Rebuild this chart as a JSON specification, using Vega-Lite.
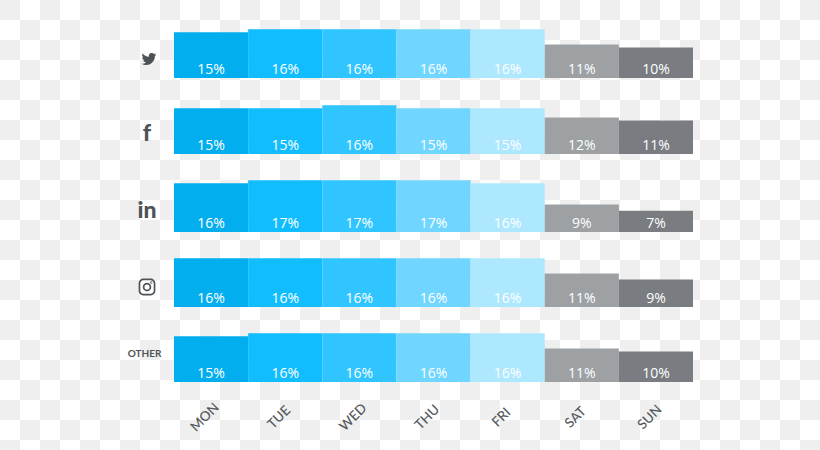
{"$schema":"https://vega.github.io/schema/vega-lite/v6.json","width":820,"height":450,"padding":0,"autosize":{"type":"none"},"background":"#ffffff","config":{"view":{"stroke":null}},
"datasets":{
"checker":[{"r":0,"c":[0,2,4,6,8,10,12,14,16,18,20,22,24,26,28,30,32,34,36,38,40]},{"r":1,"c":[1,3,5,7,9,11,13,15,17,19,21,23,25,27,29,31,33,35,37,39]},{"r":2,"c":[0,2,4,6,8,10,12,14,16,18,20,22,24,26,28,30,32,34,36,38,40]},{"r":3,"c":[1,3,5,7,9,11,13,15,17,19,21,23,25,27,29,31,33,35,37,39]},{"r":4,"c":[0,2,4,6,8,10,12,14,16,18,20,22,24,26,28,30,32,34,36,38,40]},{"r":5,"c":[1,3,5,7,9,11,13,15,17,19,21,23,25,27,29,31,33,35,37,39]},{"r":6,"c":[0,2,4,6,8,10,12,14,16,18,20,22,24,26,28,30,32,34,36,38,40]},{"r":7,"c":[1,3,5,7,9,11,13,15,17,19,21,23,25,27,29,31,33,35,37,39]},{"r":8,"c":[0,2,4,6,8,10,12,14,16,18,20,22,24,26,28,30,32,34,36,38,40]},{"r":9,"c":[1,3,5,7,9,11,13,15,17,19,21,23,25,27,29,31,33,35,37,39]},{"r":10,"c":[0,2,4,6,8,10,12,14,16,18,20,22,24,26,28,30,32,34,36,38,40]},{"r":11,"c":[1,3,5,7,9,11,13,15,17,19,21,23,25,27,29,31,33,35,37,39]},{"r":12,"c":[0,2,4,6,8,10,12,14,16,18,20,22,24,26,28,30,32,34,36,38,40]},{"r":13,"c":[1,3,5,7,9,11,13,15,17,19,21,23,25,27,29,31,33,35,37,39]},{"r":14,"c":[0,2,4,6,8,10,12,14,16,18,20,22,24,26,28,30,32,34,36,38,40]},{"r":15,"c":[1,3,5,7,9,11,13,15,17,19,21,23,25,27,29,31,33,35,37,39]},{"r":16,"c":[0,2,4,6,8,10,12,14,16,18,20,22,24,26,28,30,32,34,36,38,40]},{"r":17,"c":[1,3,5,7,9,11,13,15,17,19,21,23,25,27,29,31,33,35,37,39]},{"r":18,"c":[0,2,4,6,8,10,12,14,16,18,20,22,24,26,28,30,32,34,36,38,40]},{"r":19,"c":[1,3,5,7,9,11,13,15,17,19,21,23,25,27,29,31,33,35,37,39]},{"r":20,"c":[0,2,4,6,8,10,12,14,16,18,20,22,24,26,28,30,32,34,36,38,40]},{"r":21,"c":[1,3,5,7,9,11,13,15,17,19,21,23,25,27,29,31,33,35,37,39]},{"r":22,"c":[0,2,4,6,8,10,12,14,16,18,20,22,24,26,28,30,32,34,36,38,40]}],
"cells":[
{"platform":"Twitter","day":"MON","share":0.15},{"platform":"Twitter","day":"TUE","share":0.16},{"platform":"Twitter","day":"WED","share":0.16},{"platform":"Twitter","day":"THU","share":0.16},{"platform":"Twitter","day":"FRI","share":0.16},{"platform":"Twitter","day":"SAT","share":0.11},{"platform":"Twitter","day":"SUN","share":0.10},
{"platform":"Facebook","day":"MON","share":0.15},{"platform":"Facebook","day":"TUE","share":0.15},{"platform":"Facebook","day":"WED","share":0.16},{"platform":"Facebook","day":"THU","share":0.15},{"platform":"Facebook","day":"FRI","share":0.15},{"platform":"Facebook","day":"SAT","share":0.12},{"platform":"Facebook","day":"SUN","share":0.11},
{"platform":"LinkedIn","day":"MON","share":0.16},{"platform":"LinkedIn","day":"TUE","share":0.17},{"platform":"LinkedIn","day":"WED","share":0.17},{"platform":"LinkedIn","day":"THU","share":0.17},{"platform":"LinkedIn","day":"FRI","share":0.16},{"platform":"LinkedIn","day":"SAT","share":0.09},{"platform":"LinkedIn","day":"SUN","share":0.07},
{"platform":"Instagram","day":"MON","share":0.16},{"platform":"Instagram","day":"TUE","share":0.16},{"platform":"Instagram","day":"WED","share":0.16},{"platform":"Instagram","day":"THU","share":0.16},{"platform":"Instagram","day":"FRI","share":0.16},{"platform":"Instagram","day":"SAT","share":0.11},{"platform":"Instagram","day":"SUN","share":0.09},
{"platform":"Other","day":"MON","share":0.15},{"platform":"Other","day":"TUE","share":0.16},{"platform":"Other","day":"WED","share":0.16},{"platform":"Other","day":"THU","share":0.16},{"platform":"Other","day":"FRI","share":0.16},{"platform":"Other","day":"SAT","share":0.11},{"platform":"Other","day":"SUN","share":0.10}],
"platforms":[{"platform":"Twitter"},{"platform":"Facebook","tag":"f"},{"platform":"LinkedIn","tag":"in"},{"platform":"Instagram"},{"platform":"Other","tag":"OTHER"}]},
"layer":[
{"data":{"name":"checker"},"transform":[{"flatten":["c"]}],"mark":{"type":"rect","color":"#efefef"},"encoding":{"x":{"field":"c","type":"ordinal","axis":null,"scale":{"type":"band","range":[0,820],"paddingInner":0,"paddingOuter":0}},"y":{"field":"r","type":"ordinal","axis":null,"scale":{"type":"band","range":[0,460],"paddingInner":0,"paddingOuter":0}}}},
{"data":{"name":"cells"},"transform":[{"filter":"datum.platform==='Twitter'"}],"encoding":{"x":{"field":"day","type":"nominal","sort":null,"title":null,"scale":{"type":"band","domain":["MON","TUE","WED","THU","FRI","SAT","SUN"],"range":[174,693],"paddingInner":0,"paddingOuter":0},"axis":{"orient":"bottom","offset":-33,"zindex":1,"domain":false,"ticks":false,"labelAngle":-45,"labelAlign":"center","labelBaseline":"middle","labelPadding":0,"labelOffset":-6,"labelFont":"Lato","labelFontSize":13.5,"labelColor":"#55595d","labelFontWeight":500}},"y":{"field":"share","type":"quantitative","axis":null,"scale":{"domain":[0,0.2],"range":[78,17],"nice":false}}},
"layer":[
{"mark":{"type":"bar"},"encoding":{"color":{"field":"day","type":"nominal","legend":null,"scale":{"domain":["MON","TUE","WED","THU","FRI","SAT","SUN"],"range":["#03aeef","#12bdff","#30c5ff","#70d6ff","#aee8ff","#9da1a4","#797d81"]}}}},
{"mark":{"type":"text","font":"Open Sans","fontSize":14,"color":"#ffffff","dy":-8,"baseline":"middle"},"encoding":{"y":{"datum":0,"type":"quantitative"},"text":{"field":"share","type":"quantitative","format":".0%"}}}]},
{"data":{"name":"cells"},"transform":[{"filter":"datum.platform==='Facebook'"}],"encoding":{"x":{"field":"day","type":"nominal","sort":null,"axis":null,"scale":{"type":"band","domain":["MON","TUE","WED","THU","FRI","SAT","SUN"],"range":[174,693],"paddingInner":0,"paddingOuter":0}},"y":{"field":"share","type":"quantitative","axis":null,"scale":{"domain":[0,0.2],"range":[154,93],"nice":false}}},
"layer":[
{"mark":{"type":"bar"},"encoding":{"color":{"field":"day","type":"nominal","legend":null,"scale":{"domain":["MON","TUE","WED","THU","FRI","SAT","SUN"],"range":["#03aeef","#12bdff","#30c5ff","#70d6ff","#aee8ff","#9da1a4","#797d81"]}}}},
{"mark":{"type":"text","font":"Open Sans","fontSize":14,"color":"#ffffff","dy":-8,"baseline":"middle"},"encoding":{"y":{"datum":0,"type":"quantitative"},"text":{"field":"share","type":"quantitative","format":".0%"}}}]},
{"data":{"name":"cells"},"transform":[{"filter":"datum.platform==='LinkedIn'"}],"encoding":{"x":{"field":"day","type":"nominal","sort":null,"axis":null,"scale":{"type":"band","domain":["MON","TUE","WED","THU","FRI","SAT","SUN"],"range":[174,693],"paddingInner":0,"paddingOuter":0}},"y":{"field":"share","type":"quantitative","axis":null,"scale":{"domain":[0,0.2],"range":[232,171],"nice":false}}},
"layer":[
{"mark":{"type":"bar"},"encoding":{"color":{"field":"day","type":"nominal","legend":null,"scale":{"domain":["MON","TUE","WED","THU","FRI","SAT","SUN"],"range":["#03aeef","#12bdff","#30c5ff","#70d6ff","#aee8ff","#9da1a4","#797d81"]}}}},
{"mark":{"type":"text","font":"Open Sans","fontSize":14,"color":"#ffffff","dy":-8,"baseline":"middle"},"encoding":{"y":{"datum":0,"type":"quantitative"},"text":{"field":"share","type":"quantitative","format":".0%"}}}]},
{"data":{"name":"cells"},"transform":[{"filter":"datum.platform==='Instagram'"}],"encoding":{"x":{"field":"day","type":"nominal","sort":null,"axis":null,"scale":{"type":"band","domain":["MON","TUE","WED","THU","FRI","SAT","SUN"],"range":[174,693],"paddingInner":0,"paddingOuter":0}},"y":{"field":"share","type":"quantitative","axis":null,"scale":{"domain":[0,0.2],"range":[307,246],"nice":false}}},
"layer":[
{"mark":{"type":"bar"},"encoding":{"color":{"field":"day","type":"nominal","legend":null,"scale":{"domain":["MON","TUE","WED","THU","FRI","SAT","SUN"],"range":["#03aeef","#12bdff","#30c5ff","#70d6ff","#aee8ff","#9da1a4","#797d81"]}}}},
{"mark":{"type":"text","font":"Open Sans","fontSize":14,"color":"#ffffff","dy":-8,"baseline":"middle"},"encoding":{"y":{"datum":0,"type":"quantitative"},"text":{"field":"share","type":"quantitative","format":".0%"}}}]},
{"data":{"name":"cells"},"transform":[{"filter":"datum.platform==='Other'"}],"encoding":{"x":{"field":"day","type":"nominal","sort":null,"axis":null,"scale":{"type":"band","domain":["MON","TUE","WED","THU","FRI","SAT","SUN"],"range":[174,693],"paddingInner":0,"paddingOuter":0}},"y":{"field":"share","type":"quantitative","axis":null,"scale":{"domain":[0,0.2],"range":[382,321],"nice":false}}},
"layer":[
{"mark":{"type":"bar"},"encoding":{"color":{"field":"day","type":"nominal","legend":null,"scale":{"domain":["MON","TUE","WED","THU","FRI","SAT","SUN"],"range":["#03aeef","#12bdff","#30c5ff","#70d6ff","#aee8ff","#9da1a4","#797d81"]}}}},
{"mark":{"type":"text","font":"Open Sans","fontSize":14,"color":"#ffffff","dy":-8,"baseline":"middle"},"encoding":{"y":{"datum":0,"type":"quantitative"},"text":{"field":"share","type":"quantitative","format":".0%"}}}]},
{"data":{"name":"platforms"},"transform":[{"filter":"datum.platform==='Twitter'"}],"mark":{"type":"point","filled":true,"opacity":1,"color":"#4e5358","size":1.54,"xOffset":-25,"shape":"M11.953 -7.43a10 10 0 0 1 -2.825 .775 4.958 4.958 0 0 0 2.163 -2.723c-.951 .555 -2.005 .959 -3.127 1.184a4.92 4.92 0 0 0 -8.384 4.482C-4.31 -3.905 -7.933 -5.87 -10.36 -8.838a4.822 4.822 0 0 0 -.666 2.475c0 1.71 .87 3.213 2.188 4.096a4.904 4.904 0 0 1 -2.228 -.616v.06a4.923 4.923 0 0 0 3.946 4.827 4.996 4.996 0 0 1 -2.212 .085 4.936 4.936 0 0 0 4.604 3.417 9.867 9.867 0 0 1 -6.102 2.105c-.39 0 -.779 -.023 -1.17 -.067a13.995 13.995 0 0 0 7.557 2.209c9.053 0 13.998 -7.496 13.998 -13.985 0 -.21 0 -.42 -.015 -.63A9.935 9.935 0 0 0 12 -7.41z"},"encoding":{"x":{"datum":"MON","type":"nominal","bandPosition":0,"axis":null,"scale":{"type":"band","domain":["MON","TUE","WED","THU","FRI","SAT","SUN"],"range":[174,693],"paddingInner":0,"paddingOuter":0}},"y":{"field":"platform","type":"nominal","axis":null,"scale":{"type":"point","domain":["Twitter"],"range":[59,59]}}}},
{"data":{"name":"platforms"},"transform":[{"filter":"datum.platform==='Instagram'"}],"mark":{"type":"point","filled":false,"opacity":1,"stroke":"#4e5358","strokeWidth":1.7,"size":2.27,"xOffset":-27,"shape":"M-5 -10H5A5 5 0 0 1 10 -5V5A5 5 0 0 1 5 10H-5A5 5 0 0 1 -10 5V-5A5 5 0 0 1 -5 -10ZM4.5 0A4.5 4.5 0 1 1 -4.5 0A4.5 4.5 0 1 1 4.5 0ZM6 -6A.4 .4 0 1 1 5.2 -6A.4 .4 0 1 1 6 -6Z"},"encoding":{"x":{"datum":"MON","type":"nominal","bandPosition":0,"axis":null,"scale":{"type":"band","domain":["MON","TUE","WED","THU","FRI","SAT","SUN"],"range":[174,693],"paddingInner":0,"paddingOuter":0}},"y":{"field":"platform","type":"nominal","axis":null,"scale":{"type":"point","domain":["Instagram"],"range":[287,287]}}}},
{"data":{"name":"platforms"},"transform":[{"filter":"datum.tag==='f'"}],"mark":{"type":"text","font":"Lato","fontWeight":900,"fontSize":23,"color":"#4e5358","dx":-27,"baseline":"middle"},"encoding":{"text":{"field":"tag"},"x":{"datum":"MON","type":"nominal","bandPosition":0,"axis":null,"scale":{"type":"band","domain":["MON","TUE","WED","THU","FRI","SAT","SUN"],"range":[174,693],"paddingInner":0,"paddingOuter":0}},"y":{"field":"platform","type":"nominal","axis":null,"scale":{"type":"point","domain":["Facebook"],"range":[134,134]}}}},
{"data":{"name":"platforms"},"transform":[{"filter":"datum.tag==='in'"}],"mark":{"type":"text","font":"Lato","fontWeight":900,"fontSize":23,"color":"#4e5358","dx":-27,"baseline":"middle"},"encoding":{"text":{"field":"tag"},"x":{"datum":"MON","type":"nominal","bandPosition":0,"axis":null,"scale":{"type":"band","domain":["MON","TUE","WED","THU","FRI","SAT","SUN"],"range":[174,693],"paddingInner":0,"paddingOuter":0}},"y":{"field":"platform","type":"nominal","axis":null,"scale":{"type":"point","domain":["LinkedIn"],"range":[211,211]}}}},
{"data":{"name":"platforms"},"transform":[{"filter":"datum.tag==='OTHER'"}],"mark":{"type":"text","font":"Lato","fontWeight":700,"fontSize":10,"color":"#4e5358","dx":-29.5,"baseline":"middle"},"encoding":{"text":{"field":"tag"},"x":{"datum":"MON","type":"nominal","bandPosition":0,"axis":null,"scale":{"type":"band","domain":["MON","TUE","WED","THU","FRI","SAT","SUN"],"range":[174,693],"paddingInner":0,"paddingOuter":0}},"y":{"field":"platform","type":"nominal","axis":null,"scale":{"type":"point","domain":["Other"],"range":[354,354]}}}}
],
"resolve":{"scale":{"x":"independent","y":"independent","color":"independent"},"axis":{"x":"independent","y":"independent"}}}
